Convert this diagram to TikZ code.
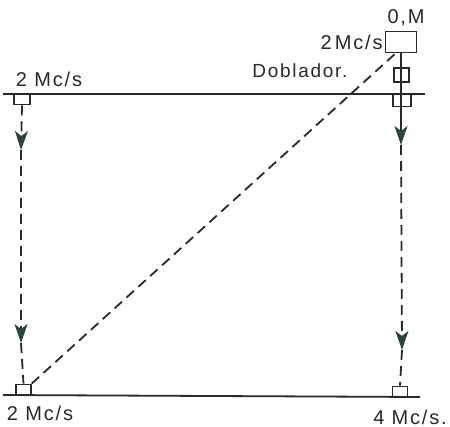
\documentclass[tikz,border=0pt]{standalone}
\usepackage{fontspec}
\setmainfont{Liberation Sans}[LetterSpace=9]
\usepackage{tikz}
\usetikzlibrary{arrows.meta,positioning}
\definecolor{ink}{HTML}{262A29}
\definecolor{tipink}{HTML}{2C4440}

\begin{document}
\begin{tikzpicture}[
  x=1pt, y=-1pt,
  font=\fontsize{20}{22}\selectfont,
  line/.style={draw=ink, line width=1.8pt},
  dashline/.style={line, dash pattern=on 10pt off 6pt},
  flow/.style={-{Stealth[length=19pt, width=13pt, inset=5pt, color=tipink]}},
  port/.style={draw=ink, line width=1.4pt, fill=none, inner sep=0pt,
    minimum width=16pt, minimum height=10pt},
  osc/.style={port, minimum width=31pt, minimum height=21pt},
  lbl/.style={text=ink, inner sep=0pt}
]
\useasboundingbox[fill=white] (0,0) rectangle (450,427);

% buses
\coordinate (busTL) at (3,94);
\coordinate (busTR) at (425,94);
\coordinate (busBL) at (3,395);
\coordinate (busBR) at (420,397);

\node[osc] (mult) at (401,42) {};
\node[port, minimum width=15pt, minimum height=14pt] (dbl) at (401.5,75) {};
\node[port, anchor=north, minimum width=18pt, minimum height=12pt] (rxR) at (402,94) {};
\node[port, anchor=north] (rxL) at (22,94) {};
\node[port, anchor=south, minimum width=15pt] (txL) at (23.5,395) {};
\node[port, anchor=south, minimum width=15pt] (txR) at (400,397) {};

\coordinate (midL1) at (21,150);
\coordinate (midL2) at (21,343);
\coordinate (midR1) at (401,145);
\coordinate (midR2) at (402,350);

% labels
\node[lbl] at (406,18) {0,M};
\node[lbl, left=2pt of mult] {2\,Mc/s};
\node[lbl, font=\fontsize{19}{22}\selectfont] at (300,71) {Doblador.};
\node[lbl] at (49,79) {2 Mc/s};
\node[lbl] at (40,413) {2 Mc/s};
\node[lbl] at (410,417) {4 Mc/s.};

\draw[line] (busTL) -- (busTR);
\draw[line] (busBL) -- (busBR);
\draw[line, flow] (mult.south) -- (midR1);
\draw[dashline, flow] (midR1) -- (midR2);
\draw[dashline] (midR2) -- (txR.north);
\draw[dashline, flow] (rxL.south) -- (midL1);
\draw[dashline, flow] (midL1) -- (midL2);
\draw[dashline] (midL2) -- (txL.north);
\draw[dashline] (txL.north east) -- (mult.245);
\end{tikzpicture}
\end{document}
